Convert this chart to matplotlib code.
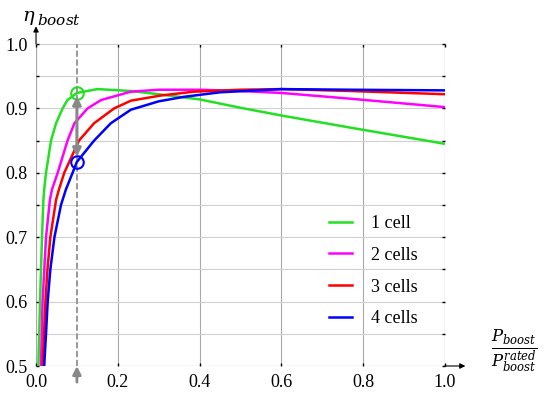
import matplotlib
matplotlib.use("Agg")
import matplotlib.pyplot as plt
from matplotlib.ticker import MultipleLocator, FormatStrFormatter

# values
x_1cell = [0.0057, 0.0098, 0.0146, 0.018, 0.020, 0.0244, 0.0366, 0.049, 0.065, 0.077,
           0.100, 0.150, 0.232, 0.300, 0.400, 0.500, 0.600, 0.770, 1.000]
eta_1cell = [0.500, 0.600, 0.700, 0.758, 0.774, 0.800, 0.850, 0.877, 0.900, 0.913,
             0.924, 0.930, 0.927, 0.922, 0.914, 0.901, 0.889, 0.870, 0.845]

x_2cells = [0.012, 0.016, 0.0244, 0.034, 0.039, 0.053, 0.077, 0.094, 0.126, 0.159,
            0.232, 0.300, 0.400, 0.500, 0.600, 0.770, 1.000]
eta_2cells = [0.500, 0.600, 0.700, 0.758, 0.774, 0.800, 0.850, 0.877, 0.900, 0.913,
              0.926, 0.929, 0.929, 0.927, 0.924, 0.915, 0.902]

x_3cells = [0.016, 0.023, 0.028, 0.035, 0.049, 0.056, 0.069, 0.105, 0.142, 0.191,
            0.232, 0.305, 0.386, 0.500, 0.600, 0.770, 1.000]
eta_3cells = [0.500, 0.600, 0.650, 0.700, 0.758, 0.774, 0.800, 0.850, 0.877, 0.900,
              0.912, 0.920, 0.926, 0.929, 0.930, 0.927, 0.922]

x_4cells = [0.020, 0.0244, 0.0285, 0.035, 0.045, 0.061, 0.073, 0.0894, 0.100, 0.142,
            0.183, 0.232, 0.300, 0.362, 0.450, 0.600, 0.770, 1.000]
eta_4cells = [0.500, 0.550, 0.600, 0.650, 0.700, 0.750, 0.774, 0.800, 0.817, 0.850,
              0.877, 0.898, 0.911, 0.918, 0.925, 0.930, 0.929, 0.928]

labels = ["1 cell", "2 cells", "3 cells", "4 cells"]
colors = ["#22e022", "#ff00ff", "#ff0000", "#0000ff"]

x_mark = 0.1
eta_top = 0.924
eta_bot = 0.817

plt.rcParams["font.family"] = ["Liberation Serif", "DejaVu Serif"]
plt.rcParams["mathtext.fontset"] = "dejavuserif"

fig = plt.figure(figsize=(5.5, 3.99), dpi=100)
ax = fig.add_axes([0.0655, 0.0827, 0.7435, 0.807])

series = [(x_1cell, eta_1cell), (x_2cells, eta_2cells),
          (x_3cells, eta_3cells), (x_4cells, eta_4cells)]
for (xs, ys), lab, c in zip(series, labels, colors):
    ax.plot(xs, ys, color=c, lw=1.8, label=lab, solid_joinstyle="round")

ax.set_xlim(0, 1)
ax.set_ylim(0.5, 1.0)
ax.xaxis.set_major_locator(MultipleLocator(0.2))
ax.yaxis.set_major_locator(MultipleLocator(0.1))
ax.yaxis.set_minor_locator(MultipleLocator(0.05))
ax.xaxis.set_major_formatter(FormatStrFormatter("%.1f"))
ax.yaxis.set_major_formatter(FormatStrFormatter("%.1f"))

ax.grid(which="major", axis="x", color="#a8a8a8", lw=0.8)
ax.grid(which="both", axis="y", color="#d0d0d0", lw=0.8)
ax.set_axisbelow(True)
for s in ax.spines.values():
    s.set_visible(False)
ax.axvline(0, color="#a8a8a8", lw=0.8, zorder=0)
ax.axhline(0.5, color="#a8a8a8", lw=0.8, zorder=0)
ax.axvline(1, color="#a8a8a8", lw=0.8, zorder=0)

ax.tick_params(which="both", direction="in", length=2.5, width=1, color="black",
               top=True, right=True, labelsize=13, pad=6)

# dashed marker line, circles and arrows
ax.plot([x_mark, x_mark], [0.5, 1.0], ls="--", color="#888888", lw=1.2, zorder=1)
ax.plot([x_mark], [eta_top], "o", mfc="none", mec=colors[0], ms=9, mew=1.5, zorder=5)
ax.plot([x_mark], [eta_bot], "o", mfc="none", mec=colors[3], ms=9, mew=1.5, zorder=5)
ax.annotate("", xy=(x_mark, eta_top - 0.005), xytext=(x_mark, eta_bot + 0.008),
            arrowprops=dict(arrowstyle="<|-|>", color="#888888", lw=2.2,
                            mutation_scale=12, shrinkA=0, shrinkB=0), zorder=6)
ax.annotate("", xy=(x_mark, 0.5), xytext=(x_mark, 0.475),
            xycoords="data", textcoords="data",
            arrowprops=dict(arrowstyle="-|>", color="#888888", lw=2,
                            mutation_scale=12, shrinkA=0, shrinkB=0),
            annotation_clip=False)

# axis arrows
ax.annotate("", xy=(0, 1.055), xytext=(0, 1.0), xycoords="axes fraction",
            arrowprops=dict(arrowstyle="-|>", color="black", lw=0.8,
                            mutation_scale=8, shrinkA=0, shrinkB=0),
            annotation_clip=False)
ax.annotate("", xy=(1.05, 0), xytext=(1.0, 0), xycoords="axes fraction",
            arrowprops=dict(arrowstyle="-|>", color="black", lw=0.8,
                            mutation_scale=8, shrinkA=0, shrinkB=0),
            annotation_clip=False)

fig.text(0.04, 0.955, r"$\eta$", fontsize=14, va="center")
fig.text(0.068, 0.948, r"$\mathit{boost}$", fontsize=11, va="center")
fig.text(0.935, 0.12, r"$\frac{P_{boost}}{P_{boost}^{rated}}$", fontsize=17,
         ha="center", va="center")

ax.legend(loc="upper left", bbox_to_anchor=(329 / 550, 1 - 215 / 399),
          bbox_transform=fig.transFigure, frameon=False, fontsize=13,
          handlelength=1.25, handletextpad=1.1, labelspacing=0.82, borderpad=0,
          borderaxespad=0)

fig.savefig("out.png", dpi=100)
